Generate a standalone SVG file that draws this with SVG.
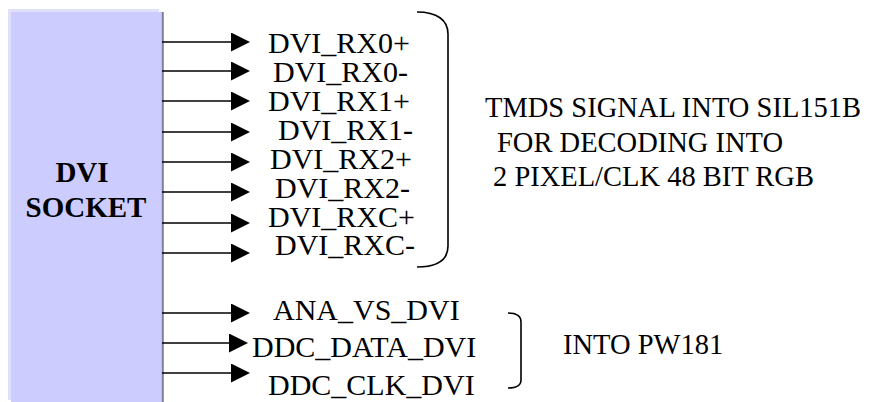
<svg xmlns="http://www.w3.org/2000/svg" width="884" height="402" viewBox="0 0 884 402">
<defs>
<marker id="ah" markerUnits="userSpaceOnUse" markerWidth="20" markerHeight="19" refX="0" refY="9.5" orient="auto">
<path d="M0,0 L19,9.5 L0,19 Z" fill="#000"/>
</marker>
</defs>
<rect width="884" height="402" fill="#ffffff"/>
<g id="dvi-socket">
<rect x="8" y="9" width="151" height="391" fill="#e0e0fa"/>
<rect x="11" y="12" width="151" height="391" fill="#ccccff"/>
<line x1="162.8" y1="12" x2="162.8" y2="402" stroke="#7f7f9c" stroke-width="2"/>
<text x="82" y="182" font-family="Times New Roman, Liberation Serif, serif" font-size="29" font-weight="bold" text-anchor="middle">DVI</text>
<text x="86" y="217" font-family="Times New Roman, Liberation Serif, serif" font-size="29" font-weight="bold" text-anchor="middle">SOCKET</text>
</g>
<g id="connectors" stroke="#000" stroke-width="1.6" fill="none" marker-end="url(#ah)">
<line x1="162" y1="42" x2="231" y2="42"/>
<line x1="162" y1="71" x2="231" y2="71"/>
<line x1="162" y1="101" x2="231" y2="101"/>
<line x1="162" y1="132" x2="231" y2="132"/>
<line x1="162" y1="162" x2="231" y2="162"/>
<line x1="162" y1="192" x2="231" y2="192"/>
<line x1="162" y1="223" x2="231" y2="223"/>
<line x1="162" y1="253" x2="231" y2="253"/>
<line x1="162" y1="313" x2="231" y2="313"/>
<line x1="162" y1="343" x2="229" y2="343"/>
<line x1="162" y1="373" x2="231" y2="373"/>
</g>
<g id="tmds-signals">
<text x="268" y="53" font-family="Times New Roman, Liberation Serif, serif" font-size="30">DVI_RX0+</text>
<text x="273" y="82" font-family="Times New Roman, Liberation Serif, serif" font-size="30">DVI_RX0-</text>
<text x="268" y="111" font-family="Times New Roman, Liberation Serif, serif" font-size="30">DVI_RX1+</text>
<text x="278" y="140" font-family="Times New Roman, Liberation Serif, serif" font-size="30">DVI_RX1-</text>
<text x="270" y="169" font-family="Times New Roman, Liberation Serif, serif" font-size="30">DVI_RX2+</text>
<text x="275" y="198" font-family="Times New Roman, Liberation Serif, serif" font-size="30">DVI_RX2-</text>
<text x="268" y="227" font-family="Times New Roman, Liberation Serif, serif" font-size="30">DVI_RXC+</text>
<text x="275" y="255" font-family="Times New Roman, Liberation Serif, serif" font-size="30">DVI_RXC-</text>
<path d="M417,12 C437,12 448,20 448,34 L448,246 C448,260 437,267 417,267" stroke="#000" stroke-width="1.6" fill="none"/>
<text x="485" y="117" font-family="Times New Roman, Liberation Serif, serif" font-size="28.5">TMDS SIGNAL INTO SIL151B</text>
<text x="497" y="152" font-family="Times New Roman, Liberation Serif, serif" font-size="28.5">FOR DECODING INTO</text>
<text x="493" y="186" font-family="Times New Roman, Liberation Serif, serif" font-size="28.5">2 PIXEL/CLK 48 BIT RGB</text>
</g>
<g id="control-signals">
<text x="273" y="320" font-family="Times New Roman, Liberation Serif, serif" font-size="30">ANA_VS_DVI</text>
<text x="252" y="357" font-family="Times New Roman, Liberation Serif, serif" font-size="30">DDC_DATA_DVI</text>
<text x="268" y="395" font-family="Times New Roman, Liberation Serif, serif" font-size="30">DDC_CLK_DVI</text>
<path d="M508,313 C516,313 521,316 521,322 L521,380 C521,386 516,388 508,388" stroke="#000" stroke-width="1.6" fill="none"/>
<text x="563" y="354" font-family="Times New Roman, Liberation Serif, serif" font-size="28.5">INTO PW181</text>
</g>
</svg>
